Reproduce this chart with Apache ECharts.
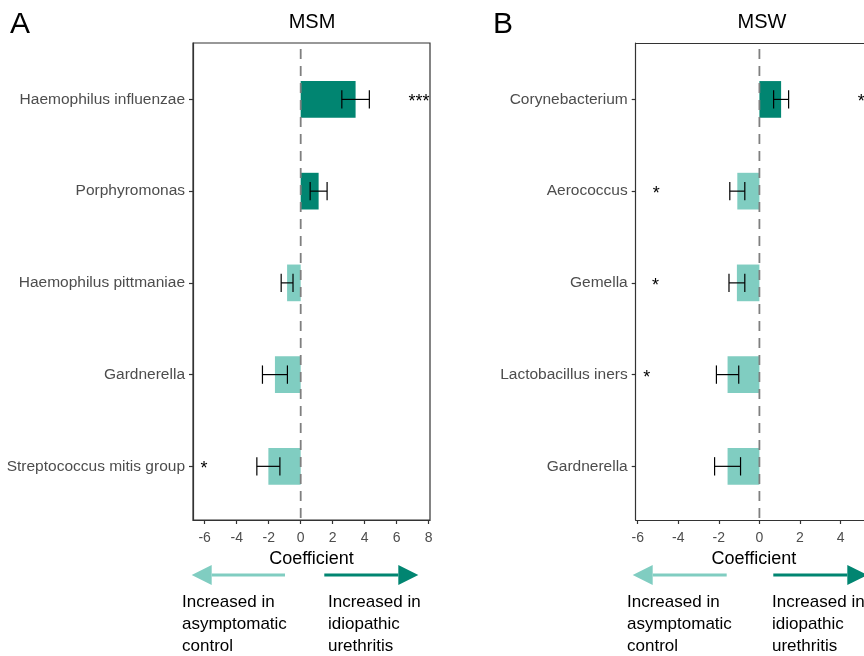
<!DOCTYPE html>
<html>
<head>
<meta charset="utf-8">
<script src="https://cdn.jsdelivr.net/npm/echarts@6/dist/echarts.min.js"></script>
<style>
  html, body { margin: 0; padding: 0; background: #fff; }
  #chart { width: 864px; height: 656px; }
</style>
</head>
<body>
<div id="chart"></div>
<script>
// panel A: MSM
const msmTaxa = ["Haemophilus influenzae", "Porphyromonas", "Haemophilus pittmaniae", "Gardnerella", "Streptococcus mitis group"];
const msmCoef = [3.43, 1.12, -0.85, -1.61, -2.02];
const msmErr = [0.86, 0.53, 0.37, 0.78, 0.72];
const msmStars = ["***", "", "", "", "*"];
const msmStarX = [7.39, null, null, null, -6.04];

// panel B: MSW
const mswTaxa = ["Corynebacterium", "Aerococcus", "Gemella", "Lactobacillus iners", "Gardnerella"];
const mswCoef = [1.07, -1.09, -1.11, -1.57, -1.57];
const mswErr = [0.37, 0.37, 0.39, 0.55, 0.64];
const mswStars = ["*", "*", "*", "*", ""];
const mswStarX = [5.02, -5.09, -5.12, -5.55, null];

const xTicksA = [-6, -4, -2, 0, 2, 4, 6, 8];
const xTicksB = [-6, -4, -2, 0, 2, 4];
const yTicks = [1, 2, 3, 4, 5];

const DARK = "#018571";
const LIGHT = "#80cdc1";
const FONT = '"Liberation Sans", Arial, sans-serif';
const Y_MIN = 0.385;
const Y_MAX = 5.585;

const chart = echarts.init(document.getElementById("chart"));

function renderBar(params, api) {
  const v = api.value(0);
  const y = api.value(1);
  const p0 = api.coord([0, y]);
  const p1 = api.coord([v, y]);
  const h = api.size([0, 0.4])[1];
  return {
    type: "rect",
    shape: { x: Math.min(p0[0], p1[0]), y: p0[1] - h / 2, width: Math.abs(p1[0] - p0[0]), height: h },
    style: { fill: v > 0 ? DARK : LIGHT }
  };
}

function renderErr(params, api) {
  const lo = api.coord([api.value(0), api.value(2)]);
  const hi = api.coord([api.value(1), api.value(2)]);
  const c = api.size([0, 0.2])[1] / 2;
  const st = { stroke: "#000", lineWidth: 1.2 };
  return {
    type: "group",
    children: [
      { type: "line", shape: { x1: lo[0], y1: lo[1], x2: hi[0], y2: hi[1] }, style: st },
      { type: "line", shape: { x1: lo[0], y1: lo[1] - c, x2: lo[0], y2: lo[1] + c }, style: st },
      { type: "line", shape: { x1: hi[0], y1: hi[1] - c, x2: hi[0], y2: hi[1] + c }, style: st }
    ]
  };
}

// vertical dashed reference line at coefficient 0
function renderZero(params, api) {
  const top = api.coord([0, Y_MIN]);
  const bot = api.coord([0, Y_MAX]);
  return {
    type: "line",
    shape: { x1: top[0], y1: top[1] + 6, x2: bot[0], y2: bot[1] },
    style: { stroke: "#7f7f7f", lineWidth: 1.8, lineDash: [10, 7] }
  };
}

function panelSeries(idx, coef, err, stars, starX) {
  const bars = coef.map((v, i) => [v, i + 1]);
  const errs = coef.map((v, i) => [v - err[i], v + err[i], i + 1]);
  const st = [];
  const stText = [];
  stars.forEach((s, i) => { if (s) { st.push([starX[i], i + 1]); stText.push(s); } });
  return [
    { type: "custom", xAxisIndex: idx, yAxisIndex: idx, renderItem: renderBar, encode: { x: 0, y: 1 }, data: bars, z: 2 },
    { type: "custom", xAxisIndex: idx, yAxisIndex: idx, renderItem: renderZero, encode: { x: 0, y: 1 }, data: [[0, 1]], z: 3 },
    { type: "custom", xAxisIndex: idx, yAxisIndex: idx, renderItem: renderErr, encode: { x: [0, 1], y: 2 }, data: errs, z: 4 },
    {
      type: "custom", xAxisIndex: idx, yAxisIndex: idx, encode: { x: 0, y: 1 }, data: st, z: 5,
      renderItem: (params, api) => {
        const p = api.coord([api.value(0), api.value(1)]);
        return {
          type: "text", x: p[0], y: p[1] + 3,
          style: { text: stText[params.dataIndex], font: "18px " + FONT, fill: "#000", align: "center", verticalAlign: "middle" }
        };
      }
    }
  ];
}

function xAxisOpt(idx, min, max, ticks, shift) {
  return {
    type: "value", gridIndex: idx, min: min, max: max,
    splitLine: { show: false },
    axisLine: { show: true, onZero: false, lineStyle: { color: "#333", width: 1.2 } },
    axisTick: { show: true, customValues: ticks, length: 4, lineStyle: { color: "#333", width: 1.2 } },
    axisLabel: { customValues: ticks, color: "#4d4d4d", fontSize: 14, fontFamily: FONT, margin: 11 },
    name: "Coefficient", nameLocation: "middle", nameGap: 29,
    nameTextStyle: { color: "#000", fontSize: 18, fontFamily: FONT, padding: [0, 0, 0, shift] }
  };
}

// top border drawn as a bare axis line
function topAxisOpt(idx, min, max) {
  return {
    type: "value", gridIndex: idx, position: "top", min: min, max: max,
    splitLine: { show: false }, axisTick: { show: false }, axisLabel: { show: false },
    axisLine: { show: true, onZero: false, lineStyle: { color: "#333", width: 1.2 } }
  };
}

function yAxisOpt(idx, taxa) {
  return {
    type: "value", gridIndex: idx, min: Y_MIN, max: Y_MAX, inverse: true,
    splitLine: { show: false },
    axisLine: { show: true, onZero: false, lineStyle: { color: "#333", width: 1.2 } },
    axisTick: { show: true, customValues: yTicks, length: 4, lineStyle: { color: "#333", width: 1.2 } },
    axisLabel: {
      customValues: yTicks, color: "#4d4d4d", fontSize: 15.5, fontFamily: FONT, margin: 8,
      formatter: v => taxa[Math.round(v) - 1]
    }
  };
}

function arrow(x0, x1, y, color) {
  const dir = x1 > x0 ? 1 : -1;
  const base = x1 - dir * 20;
  return [
    { type: "line", shape: { x1: x0, y1: y, x2: base, y2: y }, style: { stroke: color, lineWidth: 3 } },
    { type: "polygon", shape: { points: [[base, y - 10], [x1, y], [base, y + 10]] }, style: { fill: color } }
  ];
}

function label(x, y, text, size, align) {
  return {
    type: "text", x: x, y: y,
    style: { text: text, font: size + "px " + FONT, fill: "#000", align: align || "left", verticalAlign: "middle" }
  };
}

function note(x, text) {
  return { type: "text", x: x, y: 591, style: { text: text, font: "17px " + FONT, fill: "#000", verticalAlign: "top", lineHeight: 22 } };
}

// panel B runs past the right edge of the page; its visible part ends at 864 px
const bMin = -6.1;
const bMax = bMin + (864 - 635.7) / 20.28;

chart.setOption({
  animation: false,
  grid: [
    { left: 193, top: 43, width: 237, height: 477, show: true, borderColor: "#333", borderWidth: 1.2 },
    { left: 635.7, top: 43, width: 228.3, height: 477, show: false }
  ],
  xAxis: [
    xAxisOpt(0, -6.73, 8.08, xTicksA, 0),
    xAxisOpt(1, bMin, bMax, xTicksB, 8),
    topAxisOpt(1, bMin, bMax)
  ],
  yAxis: [yAxisOpt(0, msmTaxa), yAxisOpt(1, mswTaxa)],
  series: [
    ...panelSeries(0, msmCoef, msmErr, msmStars, msmStarX),
    ...panelSeries(1, mswCoef, mswErr, mswStars, mswStarX)
  ],
  graphic: [
    label(10, 25, "A", 30),
    label(493, 25, "B", 30),
    label(312, 22, "MSM", 20, "center"),
    label(762, 22, "MSW", 20, "center"),
    ...arrow(285, 191.7, 575, LIGHT),
    ...arrow(324.3, 418.3, 575, DARK),
    ...arrow(726.7, 632.7, 575, LIGHT),
    ...arrow(773.3, 867.3, 575, DARK),
    note(182, "Increased in\nasymptomatic\ncontrol"),
    note(328, "Increased in\nidiopathic\nurethritis"),
    note(627, "Increased in\nasymptomatic\ncontrol"),
    note(772, "Increased in\nidiopathic\nurethritis")
  ]
});
</script>
</body>
</html>
